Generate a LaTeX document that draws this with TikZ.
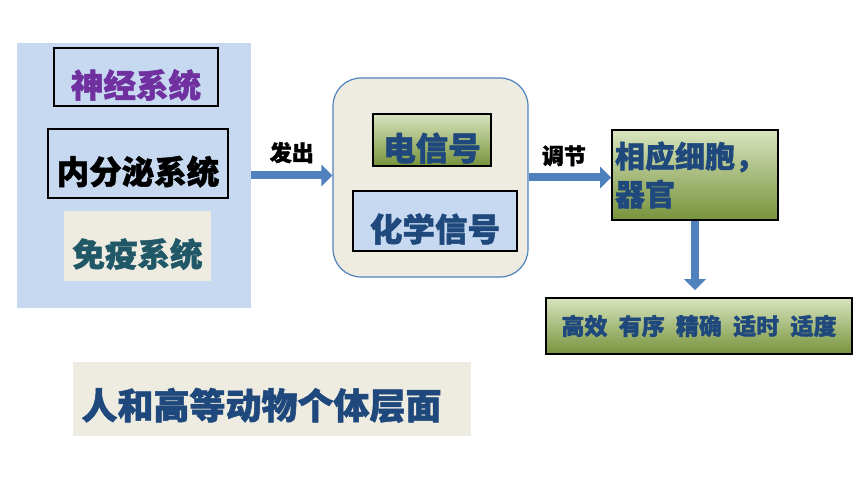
\documentclass[tikz,border=0pt]{standalone}
\usepackage{fontspec}
\newfontfamily\cjk{Noto Sans CJK SC}[BoldFeatures={FakeBold=1.5}]
\usepackage{xcolor}
\usetikzlibrary{calc, positioning}
\usetikzlibrary{arrows.meta}

\definecolor{panelblue}{HTML}{C6D9F1}
\definecolor{paperbeige}{HTML}{EEECE1}
\definecolor{arrowblue}{HTML}{4F81BD}
\definecolor{textblue}{HTML}{1F497D}
\definecolor{nervepurple}{HTML}{7030A0}
\definecolor{immuneteal}{HTML}{215868}
\definecolor{greentop}{HTML}{D8E4BE}
\definecolor{greenbottom}{HTML}{77933C}

\begin{document}
\begin{tikzpicture}[x=1pt,y=-1pt,font=\cjk\bfseries,
  blackbox/.style={draw=black,line width=1.6pt,inner sep=0pt},
  greenbox/.style={blackbox,top color=greentop,bottom color=greenbottom},
  blockarrow/.style={arrowblue,line width=8pt,-{Triangle[length=11pt,width=21pt]}},
  lowered/.style={text height=#1,text depth=0pt},
  big/.style={font=\cjk\bfseries\fontsize{32.5}{38}\selectfont,lowered=41pt}]
\useasboundingbox (0,0) rectangle (860,484);

% left panel with the three systems
\node[fill=panelblue,minimum width=234pt,minimum height=265pt,inner sep=0pt] (panel) at (134,175.5) {};
\node[blackbox,big,text=nervepurple,minimum width=164pt,minimum height=58pt] (nerve) at (136,77) {神经系统};
\node[blackbox,big,text=black,minimum width=180pt,minimum height=69pt] (endo) at (138,163.5) {内分泌系统};
\node[fill=paperbeige,big,text=immuneteal,minimum width=147pt,minimum height=70pt,inner sep=0pt] (immune) at (137.5,246) {免疫系统};

% signals
\node[draw=arrowblue,line width=1.2pt,fill=paperbeige,rounded corners=28pt,
  minimum width=195pt,minimum height=199pt] (signal) at (430.5,177.5) {};
\node[greenbox,big,text=textblue,minimum width=118pt,minimum height=52pt] (elec) at (432,140) {电信号};
\node[blackbox,fill=panelblue,big,text=textblue,minimum width=164pt,minimum height=60pt] (chem) at (435,221) {化学信号};

% targets
\node[greenbox,text=textblue,font=\cjk\bfseries\fontsize{30}{38}\selectfont,
  text width=160pt,align=left,inner xsep=3pt,minimum height=90pt] (target) at (695,175) {相应细胞，\\器官};
\node[greenbox,text=textblue,font=\cjk\bfseries\fontsize{23}{28}\selectfont,
  minimum width=306pt,minimum height=56pt] (effect) at (699,326)
  {高效\hspace{6pt} 有序\hspace{6pt} 精确\hspace{6pt} 适时\hspace{6pt} 适度};

\node[fill=paperbeige,text=textblue,font=\cjk\bfseries\fontsize{36}{40}\selectfont,lowered=40pt,
  text width=380pt,align=left,inner xsep=9pt,minimum height=74pt] (level) at (271.5,399) {人和高等动物个体层面};

% arrows
\draw[blockarrow] (panel.east) -- (panel.east -| signal.west)
  node[midway,above=5pt,text=black,font=\cjk\bfseries\fontsize{22}{24}\selectfont] (emit) {发出};
\draw[blockarrow] (signal.east) -- (signal.east -| target.west)
  node[midway,above=4pt,xshift=-6pt,text=black,font=\cjk\bfseries\fontsize{22}{24}\selectfont] (regulate) {调节};
\draw[blockarrow,shorten >=7pt] (target.south) -- (target.south |- effect.north);
\end{tikzpicture}
\end{document}
